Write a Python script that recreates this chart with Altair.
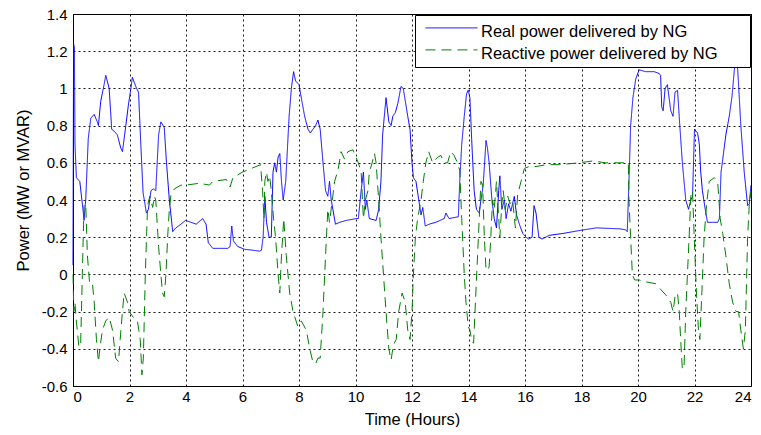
import altair as alt
import pandas as pd

# Real power delivered by NG (MW)
real_t = [0.0, 0.02, 0.05, 0.07, 0.12, 0.24, 0.36, 0.39, 0.45, 0.54, 0.63, 0.75, 0.86, 0.9, 0.98,
          1.1, 1.16, 1.28, 1.37, 1.46, 1.57, 1.69, 1.75, 1.87, 1.96, 2.05, 2.1, 2.25, 2.32, 2.4,
          2.48, 2.6, 2.67, 2.76, 2.84, 2.93, 3.03, 3.11, 3.23, 3.31, 3.41, 3.53, 3.64, 3.82, 3.98,
          4.18, 4.36, 4.59, 4.71, 4.79, 4.95, 5.18, 5.48, 5.56, 5.62, 5.68, 5.83, 6.07, 6.37, 6.6,
          6.67, 6.73, 6.79, 6.85, 6.94, 7.02, 7.08, 7.14, 7.2, 7.26, 7.32, 7.38, 7.44, 7.53, 7.65,
          7.73, 7.81, 7.88, 8.0, 8.08, 8.2, 8.32, 8.4, 8.49, 8.59, 8.67, 8.75, 8.85, 8.94, 9.02,
          9.08, 9.14, 9.2, 9.29, 9.44, 9.67, 10.02, 10.1, 10.2, 10.28, 10.35, 10.4, 10.49, 10.73,
          10.82, 10.9, 10.96, 11.08, 11.18, 11.26, 11.32, 11.41, 11.5, 11.61, 11.69, 11.85, 11.93,
          12.0, 12.05, 12.14, 12.24, 12.32, 12.38, 12.47, 12.61, 12.84, 13.14, 13.2, 13.31, 13.64,
          13.69, 13.76, 13.85, 13.93, 13.99, 14.05, 14.12, 14.2, 14.28, 14.38, 14.44, 14.52, 14.62,
          14.67, 14.73, 14.83, 14.91, 14.99, 15.07, 15.11, 15.18, 15.27, 15.33, 15.42, 15.5, 15.62,
          15.7, 15.8, 15.92, 16.04, 16.13, 16.25, 16.32, 16.39, 16.49, 16.6, 16.86, 17.34, 17.93,
          18.52, 19.35, 19.56, 19.62, 19.68, 19.74, 19.82, 19.92, 20.04, 20.27, 20.57, 20.75, 20.8,
          20.84, 20.89, 20.96, 21.04, 21.1, 21.16, 21.24, 21.31, 21.4, 21.48, 21.57, 21.69, 21.79,
          21.87, 21.93, 22.0, 22.11, 22.17, 22.22, 22.28, 22.38, 22.46, 22.64, 22.82, 22.88, 22.94,
          23.0, 23.11, 23.23, 23.33, 23.41, 23.47, 23.53, 23.64, 23.76, 23.88, 23.94, 24.0]
real_p = [0.05, 1.24, 1.22, 0.7, 0.52, 0.5, 0.34, 0.29, 0.4, 0.73, 0.84, 0.86, 0.82, 0.8, 0.93,
          1.02, 1.07, 1.0, 0.78, 0.77, 0.75, 0.68, 0.66, 0.8, 0.91, 1.0, 1.06, 1.0, 0.98, 0.7,
          0.44, 0.33, 0.35, 0.45, 0.46, 0.45, 0.75, 0.82, 0.79, 0.6, 0.4, 0.23, 0.25, 0.27, 0.29,
          0.28, 0.27, 0.3, 0.27, 0.17, 0.14, 0.14, 0.14, 0.15, 0.26, 0.18, 0.15, 0.135, 0.13, 0.125,
          0.13, 0.2, 0.42, 0.28, 0.2, 0.2, 0.55, 0.6, 0.55, 0.63, 0.65, 0.5, 0.4, 0.5, 0.85,
          1.0, 1.09, 1.04, 1.02, 0.95, 0.85, 0.78, 0.76, 0.78, 0.8, 0.83, 0.78, 0.6, 0.45, 0.42,
          0.5, 0.4, 0.35, 0.27, 0.28, 0.29, 0.3, 0.3, 0.45, 0.55, 0.35, 0.4, 0.3, 0.29,
          0.35, 0.5, 0.75, 0.95, 0.82, 0.8, 0.85, 0.87, 0.92, 1.01, 1.0, 0.85, 0.78,
          0.6, 0.52, 0.5, 0.4, 0.32, 0.36, 0.26, 0.27, 0.28, 0.3, 0.33, 0.3, 0.31,
          0.5, 0.7, 0.85, 0.97, 0.99, 0.95, 0.7, 0.45, 0.35, 0.33, 0.4, 0.48, 0.72,
          0.68, 0.6, 0.4, 0.3, 0.25, 0.45, 0.53, 0.35, 0.4, 0.3, 0.38, 0.34, 0.42,
          0.32, 0.27, 0.22, 0.2, 0.19, 0.2, 0.37, 0.33, 0.2, 0.19, 0.21, 0.22, 0.236,
          0.25, 0.245, 0.24, 0.23, 0.5, 0.8, 0.95, 1.05, 1.1, 1.09, 1.09, 1.08, 1.07,
          0.9, 0.88, 1.0, 1.02, 0.95, 0.88, 0.85, 0.98, 0.99, 0.8, 0.6, 0.4, 0.35,
          0.4, 0.42, 0.78, 0.76, 0.7, 0.55, 0.45, 0.35, 0.28, 0.28, 0.28, 0.3, 0.55,
          0.62, 0.75, 0.85, 0.96, 1.1, 1.16, 1.1, 0.8, 0.55, 0.37, 0.38, 0.48]

# Reactive power delivered by NG (MVAR)
reac_t = [0.0, 0.03, 0.07, 0.1, 0.15, 0.21, 0.27, 0.33, 0.39, 0.45, 0.51, 0.59, 0.69, 0.75, 0.83,
          0.9, 0.95, 1.04, 1.16, 1.28, 1.4, 1.51, 1.61, 1.67, 1.75, 1.81, 1.93, 1.99, 2.13, 2.28,
          2.38, 2.44, 2.49, 2.56, 2.64, 2.72, 2.82, 2.88, 2.93, 3.03, 3.11, 3.17, 3.23, 3.29, 3.35,
          3.41, 3.47, 3.59, 3.82, 4.0, 4.47, 4.83, 4.95, 5.43, 5.56, 5.66, 6.0, 6.64, 6.71, 6.76,
          6.79, 6.85, 6.9, 6.96, 7.02, 7.1, 7.17, 7.26, 7.32, 7.38, 7.46, 7.55, 7.67, 7.79, 7.96,
          8.08, 8.26, 8.38, 8.49, 8.59, 8.67, 8.75, 8.85, 8.94, 9.02, 9.08, 9.18, 9.26, 9.38, 9.49,
          9.61, 9.73, 9.91, 10.02, 10.1, 10.2, 10.28, 10.35, 10.44, 10.49, 10.59, 10.67, 10.73,
          10.82, 10.9, 10.99, 11.08, 11.18, 11.26, 11.34, 11.44, 11.53, 11.65, 11.76, 11.85, 11.93,
          12.0, 12.05, 12.12, 12.2, 12.32, 12.4, 12.49, 12.59, 12.73, 12.91, 13.02, 13.14, 13.26,
          13.37, 13.49, 13.61, 13.69, 13.76, 13.85, 13.91, 13.99, 14.05, 14.12, 14.18, 14.26, 14.32,
          14.38, 14.44, 14.5, 14.56, 14.62, 14.67, 14.73, 14.79, 14.85, 14.91, 14.99, 15.07, 15.11,
          15.18, 15.23, 15.3, 15.39, 15.47, 15.56, 15.66, 15.74, 15.86, 15.98, 16.15, 16.39, 16.75,
          17.22, 17.93, 18.4, 18.85, 19.56, 19.66, 19.68, 19.74, 19.8, 19.88, 20.04, 20.27, 20.63,
          20.8, 20.92, 21.04, 21.16, 21.24, 21.31, 21.4, 21.46, 21.51, 21.57, 21.63, 21.69, 21.75,
          21.81, 21.87, 21.93, 21.99, 22.07, 22.14, 22.19, 22.26, 22.34, 22.43, 22.52, 22.7, 22.82,
          22.91, 23.0, 23.11, 23.23, 23.35, 23.47, 23.56, 23.64, 23.73, 23.8, 23.88, 23.94, 24.0]
reac_p = [0.0, -0.2, -0.15, -0.22, -0.3, -0.39, -0.38, 0.0, 0.37, 0.38, 0.1, -0.05, -0.05, -0.15, -0.35,
          -0.47, -0.4, -0.3, -0.25, -0.23, -0.3, -0.45, -0.47, -0.35, -0.2, -0.1, -0.15, -0.2, -0.23, -0.25,
          -0.35, -0.54, -0.45, 0.0, 0.37, 0.42, 0.36, 0.42, 0.4, 0.15, 0.0, -0.1, -0.12, 0.0, 0.2,
          0.35, 0.43, 0.46, 0.48, 0.48, 0.49, 0.48, 0.5, 0.51, 0.47, 0.52, 0.55, 0.59, 0.45, 0.3,
          0.5, 0.55, 0.5, 0.53, 0.45, 0.3, 0.2, 0.0, -0.1, 0.1, 0.3, 0.1, -0.1, -0.2, -0.28,
          -0.25, -0.3, -0.4, -0.47, -0.48, -0.45, -0.45, -0.2, 0.1, 0.35, 0.28, 0.4, 0.5, 0.56, 0.66,
          0.62, 0.66, 0.67, 0.63, 0.6, 0.55, 0.3, 0.4, 0.45, 0.55, 0.6, 0.65, 0.6,
          0.4, 0.2, 0.0, -0.2, -0.4, -0.46, -0.38, -0.35, -0.2, -0.1, -0.15, -0.3, -0.35,
          -0.2, 0.0, 0.2, 0.3, 0.4, 0.5, 0.6, 0.66, 0.6, 0.63, 0.64, 0.6, 0.6,
          0.66, 0.64, 0.6, 0.56, 0.3, 0.0, -0.15, -0.28, -0.3, -0.36, -0.37, -0.1, 0.1,
          0.3, 0.5, 0.48, 0.2, 0.03, 0.02, 0.04, 0.2, 0.4, 0.35, 0.5, 0.3, 0.2,
          0.38, 0.45, 0.35, 0.42, 0.38, 0.4, 0.25, 0.43, 0.5, 0.57, 0.58, 0.58, 0.59,
          0.59, 0.6, 0.61, 0.6, 0.6, 0.6, 0.4, 0.2, 0.0, -0.03, -0.03, -0.04, -0.05,
          -0.08, -0.1, -0.12, -0.15, -0.2, -0.12, -0.1, -0.2, -0.35, -0.51, -0.5, -0.2, 0.0,
          0.2, 0.42, 0.45, 0.2, -0.1, -0.3, -0.35, -0.1, 0.2, 0.38, 0.5, 0.52, 0.5,
          0.3, 0.22, 0.1, -0.05, -0.15, -0.2, -0.2, -0.3, -0.4, -0.3, 0.2, 0.38, 0.45]

series_names = ["Real power delivered by NG", "Reactive power delivered by NG"]
series_colors = ["#0000ff", "#008000"]
x_ticks = [0, 2, 4, 6, 8, 10, 12, 14, 16, 18, 20, 22, 24]
y_ticks = [-0.6, -0.4, -0.2, 0, 0.2, 0.4, 0.6, 0.8, 1, 1.2, 1.4]

df = pd.concat([
    pd.DataFrame({"t": real_t, "p": real_p, "series": series_names[0], "order": range(len(real_t))}),
    pd.DataFrame({"t": reac_t, "p": reac_p, "series": series_names[1], "order": range(len(reac_t))}),
])

FONT = "Liberation Sans"
# trailing non-breaking spaces (kept from trimming by a zero-width space) widen the legend box
PAD = "\u00a0" * 6 + "\u200b"
legend_spec = alt.Legend(labelExpr="datum.label + '" + PAD + "'")

chart = alt.Chart(df).mark_line(strokeWidth=1).encode(
    x=alt.X("t:Q", scale=alt.Scale(domain=[0, 24], nice=False),
            axis=alt.Axis(values=x_ticks, title="Time (Hours)", labelPadding=3, titlePadding=7)),
    y=alt.Y("p:Q", scale=alt.Scale(domain=[-0.6, 1.4], nice=False),
            axis=alt.Axis(values=y_ticks, title="Power (MW or MVAR)", labelPadding=6,
                          titleX=-50, titleY=176, titleBaseline="middle",
                          labelExpr="datum.value < 0 ? '-' + format(-datum.value, '~g') : format(datum.value, '~g')")),
    color=alt.Color("series:N", scale=alt.Scale(domain=series_names, range=series_colors), title=None,
                    legend=legend_spec),
    strokeDash=alt.StrokeDash("series:N", scale=alt.Scale(domain=series_names, range=[[1, 0], [10, 6]]),
                              title=None, legend=legend_spec),
    order="order:Q",
).properties(
    width=678, height=372,
    autosize=alt.AutoSizeParams(type="none"),
    padding={"left": 65, "top": 6, "right": 2, "bottom": 41},
).configure_view(
    stroke="black", strokeWidth=1
).configure_axis(
    domain=False, ticks=False, grid=True, gridColor="black", gridDash=[2, 3], gridOpacity=0.9,
    labelFont=FONT, labelFontSize=15, labelColor="black",
    titleFont=FONT, titleFontSize=16.5, titleFontWeight="normal", titleColor="black",
).configure_legend(
    orient="top-right", offset=1, padding=4, strokeColor="black", fillColor="white",
    symbolType="M-1,0.15H1", symbolSize=2704, symbolStrokeWidth=1, clipHeight=10,
    labelOffset=3, symbolOffset=6, labelFont=FONT, labelFontSize=16.5, labelColor="black",
    labelBaseline="top", labelLimit=500, rowPadding=0, cornerRadius=0,
)

chart.save("out.html", embed_options={"renderer": "svg", "actions": False})
